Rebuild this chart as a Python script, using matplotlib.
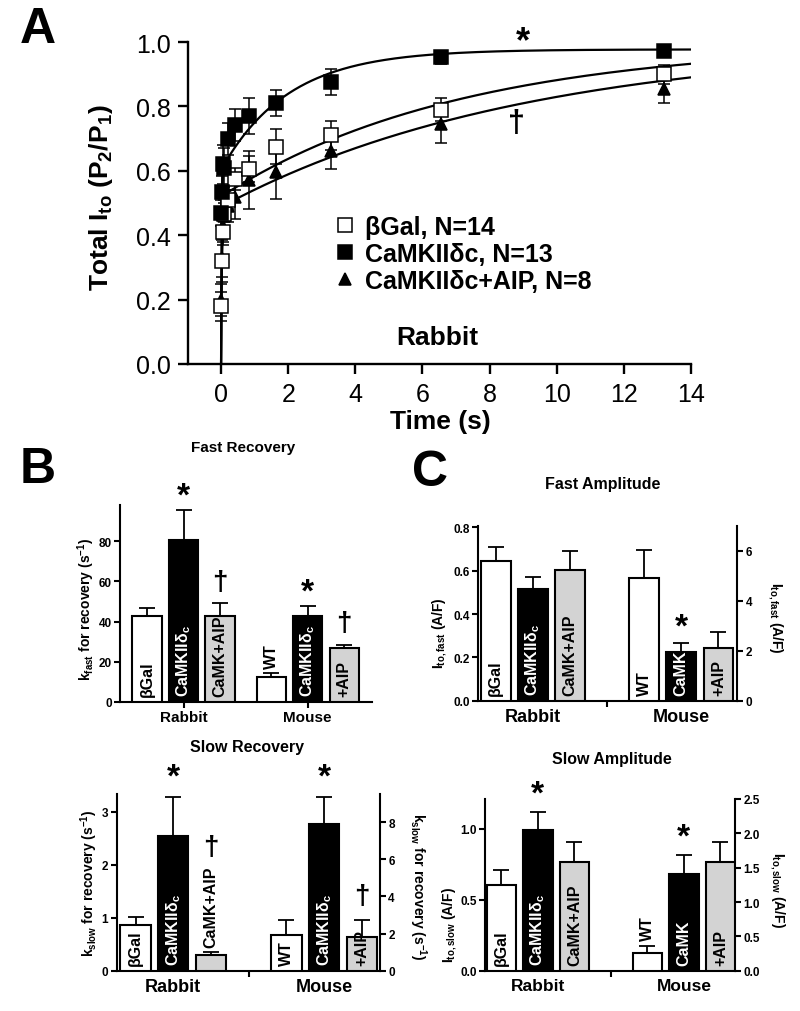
import numpy as np
import matplotlib
matplotlib.use("Agg")
import matplotlib.pyplot as plt

plt.rcParams['font.family'] = ['Liberation Sans', 'DejaVu Sans']
plt.rcParams['mathtext.fontset'] = 'custom'
plt.rcParams['mathtext.rm'] = 'Liberation Sans'
plt.rcParams['mathtext.bf'] = 'Liberation Sans:bold'
plt.rcParams['mathtext.it'] = 'Liberation Sans:italic'
plt.rcParams['mathtext.default'] = 'bf'

# ---- Panel A: recovery from inactivation (rabbit) ----
t_rec = [0.0125, 0.025, 0.05, 0.1, 0.2, 0.41, 0.82, 1.64, 3.28, 6.55, 13.2]
bgal_rec = [0.18, 0.32, 0.41, 0.465, 0.51, 0.575, 0.605, 0.675, 0.71, 0.79, 0.90]
bgal_err = [0.045, 0.065, 0.04, 0.035, 0.03, 0.035, 0.04, 0.055, 0.045, 0.035, 0.03]
camk_rec = [0.47, 0.535, 0.62, 0.61, 0.70, 0.742, 0.77, 0.81, 0.875, 0.952, 0.973]
camk_err = [0.04, 0.05, 0.06, 0.06, 0.05, 0.05, 0.055, 0.04, 0.04, 0.02, 0.01]
aip_rec = [0.20, 0.33, 0.43, 0.46, 0.49, 0.52, 0.57, 0.595, 0.662, 0.745, 0.855]
aip_err = [0.05, 0.06, 0.05, 0.05, 0.05, 0.07, 0.09, 0.083, 0.057, 0.06, 0.045]

# bi-exponential fit parameters: plateau, slow amplitude, k_fast, k_slow
fit_bgal = (1.0, 0.48, 35.0, 0.14)
fit_camk = (0.977, 0.374, 80.0, 0.5)
fit_aip = (1.0, 0.512, 43.0, 0.11)

legend_labels = ['βGal, N=14', 'CaMKIIδc, N=13', 'CaMKIIδc+AIP, N=8']

# ---- Panels B / C: bar charts ----
bar_names = ['βGal', 'CaMKIIδ$_{c}$', 'CaMK+AIP']
mouse_fast_names = ['WT', 'CaMKIIδ$_{c}$', '+AIP']
mouse_amp_names = ['WT', 'CaMK', '+AIP']
bar_colors = ['white', 'black', '#d3d3d3']
text_colors = ['black', 'white', 'black']

kfast_rabbit = [42.9, 80.6, 42.6]
kfast_rabbit_err = [3.9, 15.0, 6.5]
kfast_mouse = [12.6, 42.9, 26.9]
kfast_mouse_err = [1.7, 5.0, 1.5]

kslow_rabbit = [0.86, 2.54, 0.30]
kslow_rabbit_err = [0.16, 0.74, 0.05]
kslow_mouse = [1.92, 7.91, 1.83]
kslow_mouse_err = [0.81, 1.47, 0.90]

afast_rabbit = [0.643, 0.515, 0.603]
afast_rabbit_err = [0.068, 0.057, 0.089]
afast_mouse = [4.93, 1.94, 2.12]
afast_mouse_err = [1.12, 0.36, 0.65]

aslow_rabbit = [0.607, 0.993, 0.765]
aslow_rabbit_err = [0.106, 0.125, 0.145]
aslow_mouse = [0.258, 1.41, 1.58]
aslow_mouse_err = [0.106, 0.27, 0.30]

W, H = 800, 1012
fig = plt.figure(figsize=(W / 100, H / 100), dpi=100)


def px_axes(x0, y0, x1, y1):
    return fig.add_axes([x0 / W, 1 - y1 / H, (x1 - x0) / W, (y1 - y0) / H])


def px_text(x, y, s, **kw):
    kw.setdefault('ha', 'center')
    kw.setdefault('va', 'center')
    kw.setdefault('fontweight', 'bold')
    fig.text(x / W, 1 - y / H, s, **kw)


def recovery(t, p):
    plateau, a_slow, k_fast, k_slow = p
    a_fast = plateau - a_slow
    return plateau - a_fast * np.exp(-k_fast * t) - a_slow * np.exp(-k_slow * t)


# ================= Panel A =================
axA = px_axes(187.5, 43, 691, 365)
t_fine = np.concatenate([[0], np.geomspace(1e-4, 14, 800)])
for p in (fit_bgal, fit_camk, fit_aip):
    axA.plot(t_fine, recovery(t_fine, p), color='black', lw=1.6, zorder=2)

styles = [dict(marker='s', mfc='white', ms=9.5),
          dict(marker='s', mfc='black', ms=9.5),
          dict(marker='^', mfc='black', ms=8.5)]
series = [(bgal_rec, bgal_err), (camk_rec, camk_err), (aip_rec, aip_err)]
for order, i in enumerate([2, 0, 1]):
    vals, errs = series[i]
    axA.errorbar(t_rec, vals, yerr=errs, fmt='none', ecolor='black',
                 elinewidth=1.1, capsize=4.5, capthick=1.1, zorder=3 + order)
for i in [2, 0, 1]:
    vals, errs = series[i]
    axA.plot(t_rec, vals, ls='none', mec='black', mew=1.1,
             clip_on=False, zorder=6, **styles[i])
handles = [plt.Line2D([], [], ls='none', mec='black', mew=1.1, **styles[i]) for i in range(3)]

axA.set_xlim(-1, 14)
axA.set_ylim(0, 1.0)
axA.set_xticks(np.arange(0, 15, 2))
axA.set_yticks(np.arange(0, 1.01, 0.2))
axA.set_yticklabels([f'{v:.1f}' for v in np.arange(0, 1.01, 0.2)])
for s in ['top', 'right']:
    axA.spines[s].set_visible(False)
for s in ['left', 'bottom']:
    axA.spines[s].set_linewidth(1.7)
axA.tick_params(direction='out', length=7, width=1.7, labelsize=18)
axA.tick_params(axis='x', pad=6)
axA.tick_params(axis='y', pad=5)
axA.text(9.0, 1.0, '*', fontsize=26, fontweight='bold', ha='center', va='center')
axA.text(8.8, 0.75, '†', fontsize=22, fontweight='bold', ha='center', va='center')

axA.legend(handles, legend_labels, loc='upper left',
           bbox_to_anchor=(335 / W, 1 - 216 / H), bbox_transform=fig.transFigure,
           frameon=False, handlelength=0.8, handletextpad=0.4,
           labelspacing=0.12, borderpad=0, borderaxespad=0,
           prop=dict(size=18, weight='bold'))

px_text(437, 338, 'Rabbit', fontsize=19)
px_text(440, 422, 'Time (s)', fontsize=19)
px_text(101, 198, 'Total I$_{to}$ (P$_{2}$/P$_{1}$)', fontsize=19, rotation=90)
px_text(38, 30, 'A', fontsize=36)


# ================= Panels B / C =================
def style_axis(ax, right=False):
    for s in ['top', 'right', 'left', 'bottom']:
        ax.spines[s].set_linewidth(1.5)
    ax.spines['top'].set_visible(False)
    ax.spines['right'].set_visible(right)
    if right:
        ax.spines['left'].set_visible(False)
        ax.spines['bottom'].set_visible(False)
    ax.tick_params(direction='out', length=4, width=1.5, labelsize=8.5, pad=2)
    for lab in ax.get_yticklabels():
        lab.set_fontweight('bold')


def draw_bars(ax, xs, vals, errs, names, above=(), size=11.5):
    ax.bar(xs, vals, width=0.8, color=bar_colors, edgecolor='black', lw=1.5, zorder=3)
    ax.errorbar(xs, vals, yerr=[np.zeros(len(vals)), errs], fmt='none', ecolor='black',
                elinewidth=1.3, capsize=6, capthick=1.3, zorder=2)
    for i, (x, v, e, name) in enumerate(zip(xs, vals, errs, names)):
        if i in above:
            ax.annotate(name, (x, v + e), xytext=(0, 4), textcoords='offset points',
                        rotation=90, ha='center', va='bottom', fontsize=size,
                        fontweight='bold', color='black', zorder=5)
        else:
            ax.annotate(name, (x, 0), xytext=(0, 4), textcoords='offset points',
                        rotation=90, ha='center', va='bottom', fontsize=size,
                        fontweight='bold', color=text_colors[i], zorder=5)


def mark(ax, x, v, e, sym, offset):
    ax.annotate(sym, (x, v + e), xytext=(0, offset), textcoords='offset points',
                ha='center', va='center', fontsize=24 if sym == '*' else 20,
                fontweight='bold', zorder=5)


def group_labels(ax, centers, size, tick_at=None):
    if tick_at is None:
        ax.set_xticks(centers)
        ax.set_xticklabels(['Rabbit', 'Mouse'], fontsize=size, fontweight='bold')
        ax.tick_params(axis='x', length=4, width=1.5, pad=2)
    else:
        ax.set_xticks([tick_at])
        ax.set_xticklabels([''])
        ax.set_xticks(centers, minor=True)
        ax.set_xticklabels(['Rabbit', 'Mouse'], minor=True, fontsize=size, fontweight='bold')
        ax.tick_params(axis='x', which='minor', length=0, pad=5)
        ax.tick_params(axis='x', which='major', length=4, width=1.5)


rabbit_x = [0, 1, 2]
mouse_x = [4, 5, 6]

# ---- B top: fast recovery ----
axB1 = px_axes(120, 506, 372, 703)
xs_fast_m = [3.4, 4.4, 5.4]
draw_bars(axB1, rabbit_x, kfast_rabbit, kfast_rabbit_err, bar_names)
draw_bars(axB1, xs_fast_m, kfast_mouse, kfast_mouse_err, mouse_fast_names, above=(0,))
axB1.set_xlim(-0.74, 6.16)
axB1.set_ylim(0, 98)
axB1.set_yticks([0, 20, 40, 60, 80])
style_axis(axB1)
group_labels(axB1, [1, 4.4], 11)
mark(axB1, 1, kfast_rabbit[1], kfast_rabbit_err[1], '*', 10)
mark(axB1, 2, kfast_rabbit[2], kfast_rabbit_err[2], '†', 15)
mark(axB1, 4.4, kfast_mouse[1], kfast_mouse_err[1], '*', 10)
mark(axB1, 5.4, kfast_mouse[2], kfast_mouse_err[2], '†', 16)
px_text(243, 448, 'Fast Recovery', fontsize=11)
px_text(86, 609, 'k$_{fast}$ for recovery (s$^{-1}$)', fontsize=10, rotation=90)

# ---- B bottom: slow recovery ----
axB2 = px_axes(116.7, 795, 380, 971.7)
axB2r = axB2.twinx()
draw_bars(axB2, rabbit_x, kslow_rabbit, kslow_rabbit_err, bar_names, above=(2,))
draw_bars(axB2r, mouse_x, kslow_mouse, kslow_mouse_err, mouse_fast_names)
axB2.set_xlim(-0.5, 6.48)
axB2.set_ylim(0, 3.33)
axB2r.set_ylim(0, 9.52)
axB2.set_yticks([0, 1, 2, 3])
axB2r.set_yticks([0, 2, 4, 6, 8])
style_axis(axB2)
style_axis(axB2r, right=True)
group_labels(axB2, [1, 5], 13, tick_at=3)
mark(axB2, 1, kslow_rabbit[1], kslow_rabbit_err[1], '*', 14)
mark(axB2, 2, kslow_rabbit[2], kslow_rabbit_err[2], '†', 76)
mark(axB2r, 5, kslow_mouse[1], kslow_mouse_err[1], '*', 14)
mark(axB2r, 6, kslow_mouse[2], kslow_mouse_err[2], '†', 17)
px_text(247, 748, 'Slow Recovery', fontsize=11.5)
px_text(89, 883, 'k$_{slow}$ for recovery (s$^{-1}$)', fontsize=10, rotation=90)
px_text(418, 887, 'k$_{slow}$ for recovery (s$^{-1}$)', fontsize=10, rotation=270)
px_text(38, 470, 'B', fontsize=36)

# ---- C top: fast amplitude ----
axC1 = px_axes(478.3, 527, 737.3, 701.7)
axC1r = axC1.twinx()
draw_bars(axC1, rabbit_x, afast_rabbit, afast_rabbit_err, bar_names)
draw_bars(axC1r, mouse_x, afast_mouse, afast_mouse_err, mouse_amp_names)
axC1.set_xlim(-0.47, 6.51)
axC1.set_ylim(0, 0.806)
axC1r.set_ylim(0, 7.0)
axC1.set_yticks([0, 0.2, 0.4, 0.6, 0.8])
axC1.set_yticklabels(['0.0', '0.2', '0.4', '0.6', '0.8'])
axC1r.set_yticks([0, 2, 4, 6])
style_axis(axC1)
style_axis(axC1r, right=True)
group_labels(axC1, [1, 5], 13, tick_at=3)
mark(axC1r, 5, afast_mouse[1], afast_mouse_err[1], '*', 12)
px_text(603, 485, 'Fast Amplitude', fontsize=11.5)
px_text(440, 633, 'I$_{to,fast}$ (A/F)', fontsize=10, rotation=90)
px_text(775, 618, 'I$_{to,fast}$ (A/F)', fontsize=10, rotation=270)
px_text(430, 473, 'C', fontsize=36)

# ---- C bottom: slow amplitude ----
axC2 = px_axes(485, 800, 735, 971.7)
axC2r = axC2.twinx()
draw_bars(axC2, rabbit_x, aslow_rabbit, aslow_rabbit_err, bar_names)
draw_bars(axC2r, mouse_x, aslow_mouse, aslow_mouse_err, mouse_amp_names, above=(0,))
axC2.set_xlim(-0.45, 6.4)
axC2.set_ylim(0, 1.21)
axC2r.set_ylim(0, 2.5)
axC2.set_yticks([0, 0.5, 1.0])
axC2.set_yticklabels(['0.0', '0.5', '1.0'])
axC2r.set_yticks([0, 0.5, 1.0, 1.5, 2.0, 2.5])
axC2r.set_yticklabels(['0.0', '0.5', '1.0', '1.5', '2.0', '2.5'])
style_axis(axC2)
style_axis(axC2r, right=True)
group_labels(axC2, [1, 5], 12.5, tick_at=3)
mark(axC2, 1, aslow_rabbit[1], aslow_rabbit_err[1], '*', 13)
mark(axC2r, 5, aslow_mouse[1], aslow_mouse_err[1], '*', 13)
px_text(612, 760, 'Slow Amplitude', fontsize=11.5)
px_text(450, 925, 'I$_{to,slow}$ (A/F)', fontsize=10, rotation=90)
px_text(777, 890, 'I$_{to,slow}$ (A/F)', fontsize=10, rotation=270)

fig.savefig('out.png', dpi=100)
